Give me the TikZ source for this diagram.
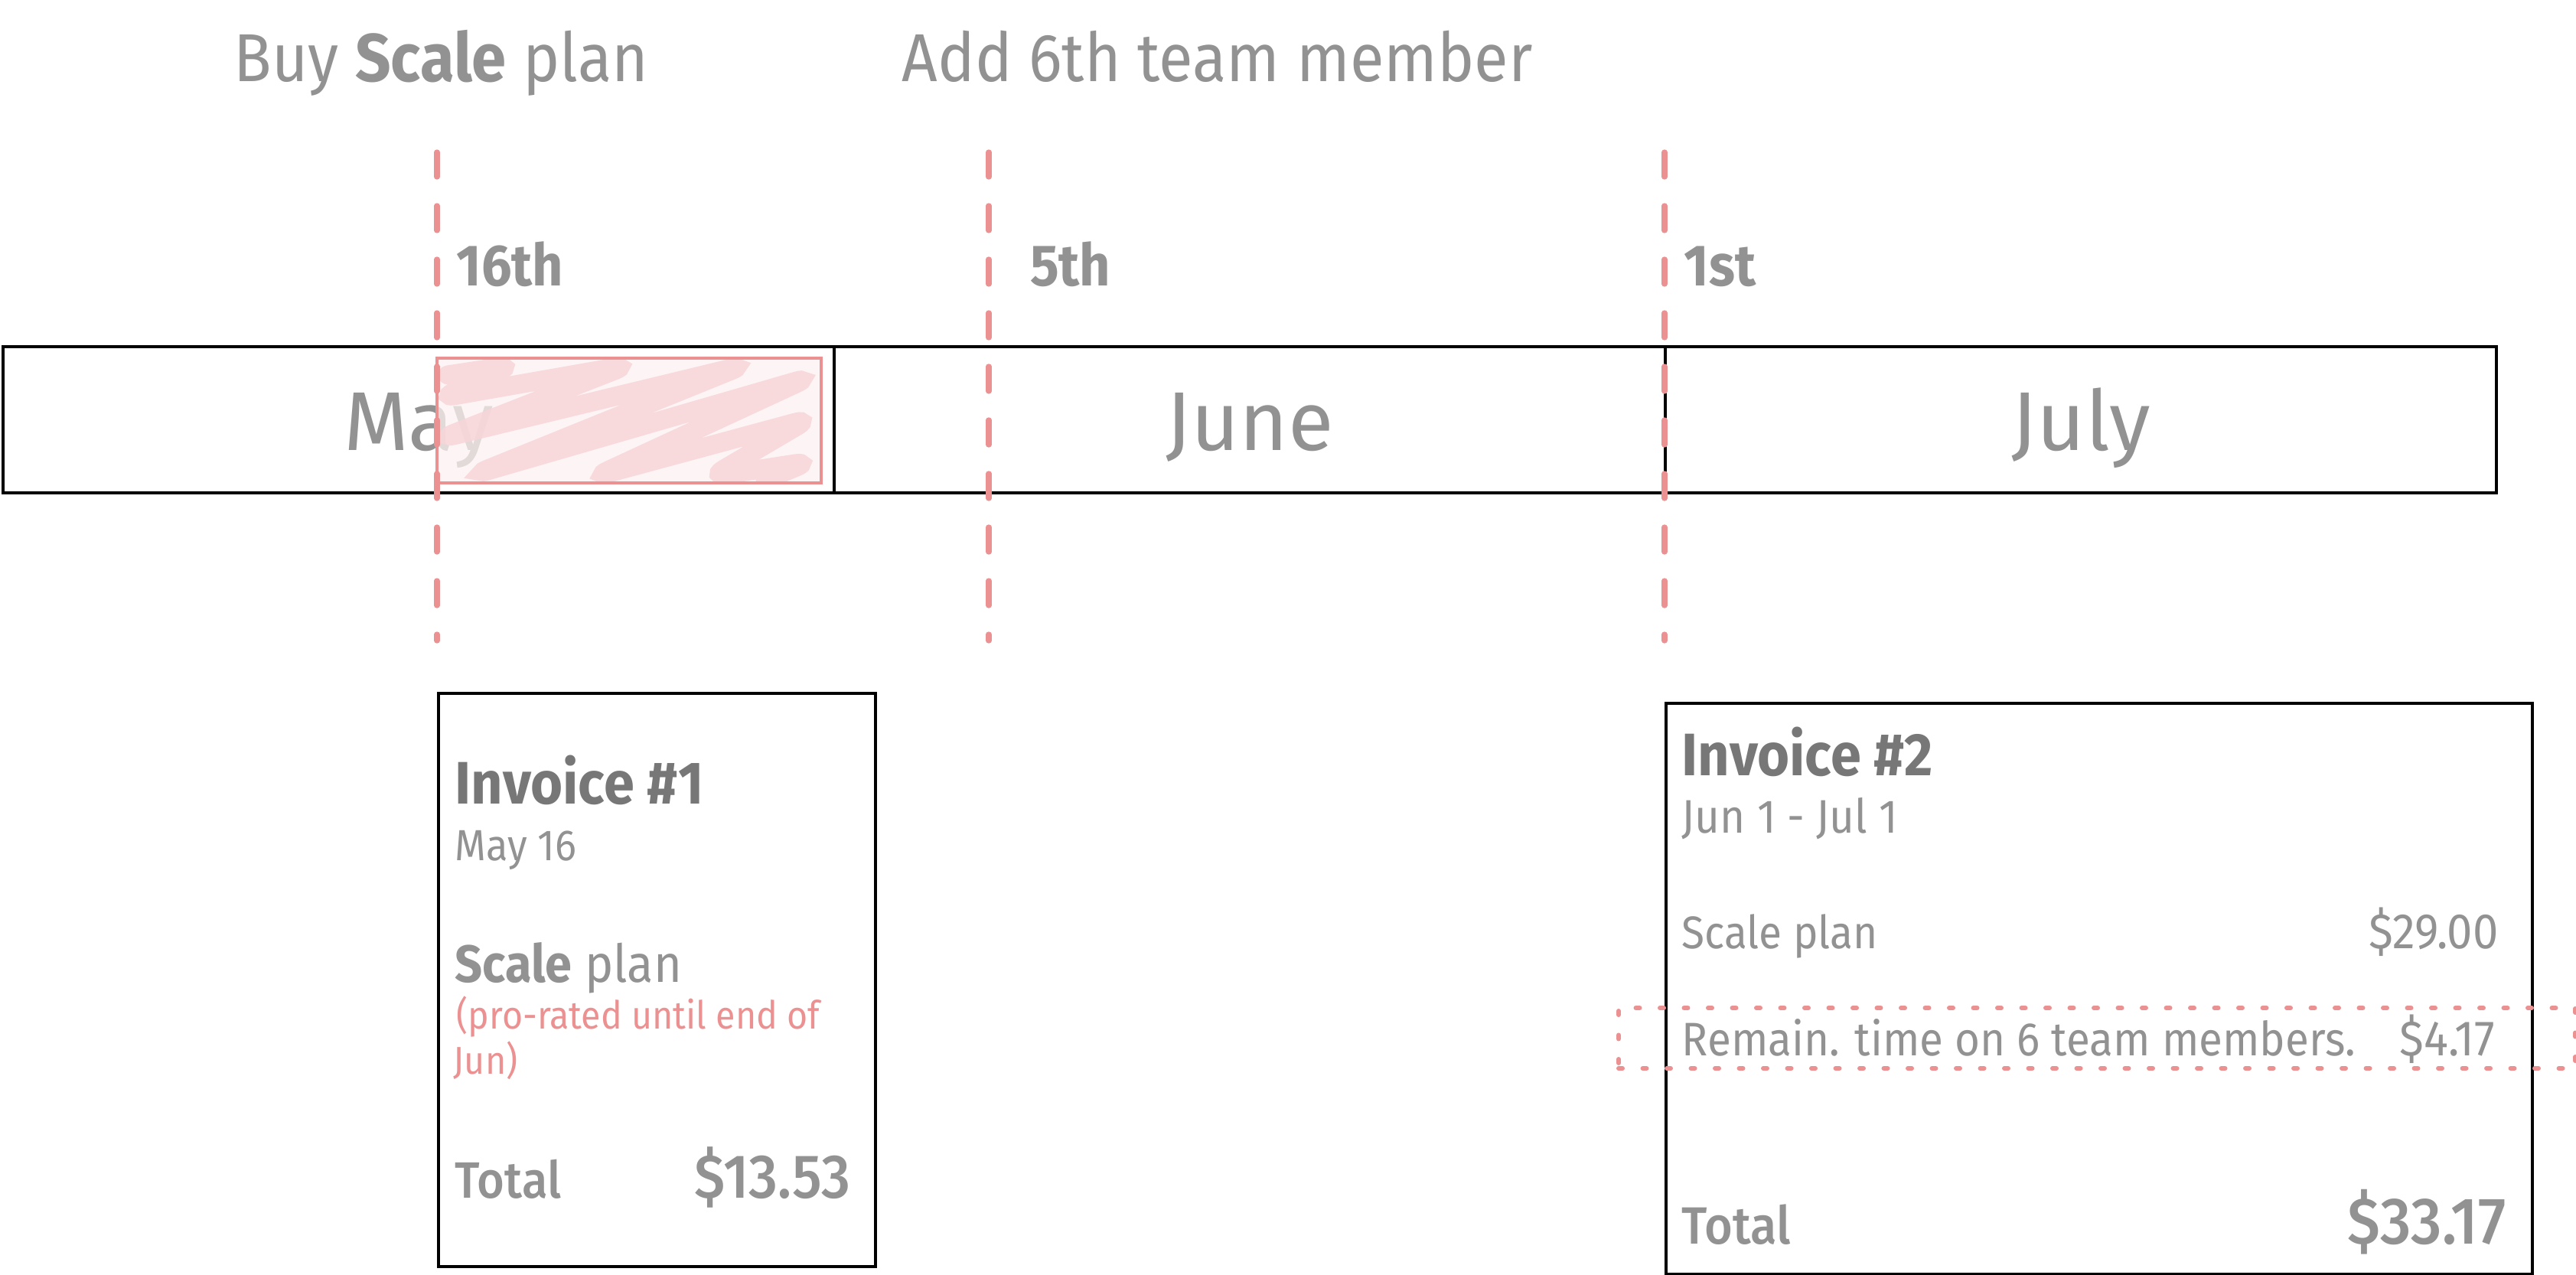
\documentclass[tikz,border=0pt]{standalone}
\usepackage{fontspec}
\setmainfont{Fira Sans}[FakeStretch=0.92]
\newfontfamily\monthfont{Fira Sans}
\newfontfamily\medfont{Fira Sans Medium}[FakeStretch=0.92]
\usetikzlibrary{positioning}

\definecolor{txtgray}{HTML}{929292}
\definecolor{titlegray}{HTML}{777777}
\definecolor{pinkline}{HTML}{EC9191}
\definecolor{hatchfill}{HTML}{FDF1F1}
\definecolor{scribble}{HTML}{F8D6DA}

\begin{document}
\begin{tikzpicture}[
    txt/.style={
        text=txtgray,
        inner sep=0pt,
        anchor=base west
    },
    txtr/.style={
        txt,
        anchor=base east
    },
    month/.style={
        draw,
        line width=1.1pt,
        minimum width=10.86cm,
        minimum height=1.91cm,
        outer sep=0pt,
        text=txtgray,
        font=\monthfont\fontsize{31}{32}\selectfont,
        text height=0.8cm,
        text depth=0cm
    },
    invoice/.style={
        draw,
        line width=1.1pt,
        anchor=north west
    },
    marker/.style={
        draw=pinkline,
        line width=2.1pt,
        line cap=round,
        dash pattern=on 0.32cm off 0.38cm
    },
    remainbox/.style={
        draw=pinkline,
        line width=1.7pt,
        line cap=round,
        dash pattern=on 0.05cm off 0.265cm
    }
]
\useasboundingbox (0,0) rectangle (33.66,-16.66);

% Events
\node[txt, font=\fontsize{25.2}{30}\selectfont] (buy) at (3.05,-1.07) {Buy \textbf{Scale} plan};
\node[txt, font=\fontsize{25.2}{30}\selectfont] (add) at (11.78,-1.07) {Add 6th team member};

% Days
\node[txt, font=\bfseries\fontsize{21.7}{26}\selectfont] (d16) at (5.96,-3.74) {16th};
\node[txt, font=\bfseries\fontsize{21.7}{26}\selectfont] (d5) at (13.46,-3.74) {5th};
\node[txt, font=\bfseries\fontsize{21.7}{26}\selectfont] (d1) at (22.00,-3.74) {1st};

% Months
\node[month, anchor=north west] (may) at (0.04,-4.53) {May};
\node[month, right=0pt of may] (june) {June};
\node[month, right=0pt of june] (july) {July};

% Pro-rated part of May
\begin{scope}
\clip (5.71,-4.68) rectangle (10.73,-6.31);
\fill[hatchfill, opacity=0.75] (5.71,-4.68) rectangle (10.73,-6.31);
\draw[scribble, opacity=0.85, line width=0.25cm, rounded corners=0.2cm, line cap=round]
    (5.85,-4.90) -- (6.70,-4.77) -- (5.76,-5.20) -- (8.21,-4.77) -- (5.76,-5.73)
    -- (9.73,-4.77) -- (6.20,-6.20) -- (10.58,-4.93) -- (7.77,-6.23)
    -- (10.58,-5.47) -- (9.29,-6.23) -- (10.58,-6.03) -- (10.00,-6.27);
\end{scope}
\draw[pinkline, line width=1.1pt] (5.71,-4.68) rectangle (10.73,-6.31);

% Markers
\coordinate (buytop) at (5.71,-1.99);
\coordinate (buybot) at (5.71,-8.37);
\coordinate (addtop) at (12.92,-1.99);
\coordinate (addbot) at (12.92,-8.37);
\coordinate (newtop) at (21.75,-1.99);
\coordinate (newbot) at (21.75,-8.37);
\draw[marker] (buytop) -- (buybot);
\draw[marker] (addtop) -- (addbot);
\draw[marker] (newtop) -- (newbot);

% Invoice 1
\node[invoice, minimum width=5.71cm, minimum height=7.49cm] (inv1) at (5.71,-9.04) {};
\node[txt, text=titlegray, font=\bfseries\fontsize{22.3}{26}\selectfont] (inv1title) at (5.94,-10.50) {Invoice \#1};
\node[txt, font=\fontsize{16.2}{20}\selectfont] (inv1date) at (5.94,-11.24) {May 16};
\node[txt, font=\fontsize{19.5}{23}\selectfont] (inv1plan) at (5.94,-12.83) {\textbf{Scale} plan};
\node[txt, text=pinkline, font=\fontsize{14.4}{17}\selectfont] (inv1note) at (5.96,-13.44) {(pro-rated until end of};
\node[txt, text=pinkline, font=\fontsize{14.4}{17}\selectfont] (inv1note2) at (5.92,-14.03) {Jun)};
\node[txt, font=\medfont\fontsize{19}{23}\selectfont] (inv1total) at (5.94,-15.65) {Total};
\node[txtr, font=\medfont\fontsize{23}{27}\selectfont] (inv1sum) at (11.12,-15.65) {\$13.53};

% Invoice 2
\node[invoice, minimum width=11.32cm, minimum height=7.46cm] (inv2) at (21.75,-9.17) {};
\node[remainbox, minimum width=12.50cm, minimum height=0.79cm, anchor=north west] (remain) at (21.12,-13.14) {};
\node[txt, text=titlegray, font=\bfseries\fontsize{22.3}{26}\selectfont] (inv2title) at (21.97,-10.13) {Invoice \#2};
\node[txt, font=\fontsize{17.5}{20}\selectfont] (inv2date) at (21.97,-10.88) {Jun 1 - Jul 1};
\node[txt, font=\fontsize{17}{20}\selectfont] (inv2plan) at (21.97,-12.39) {Scale plan};
\node[txtr, font=\fontsize{18.5}{21}\selectfont] (inv2plansum) at (32.65,-12.39) {\$29.00};
\node[txt, font=\fontsize{17.5}{20}\selectfont] (inv2seats) at (21.97,-13.79) {Remain. time on 6 team members.};
\node[txtr, font=\fontsize{18.5}{21}\selectfont] (inv2seatsum) at (32.61,-13.79) {\$4.17};
\node[txt, font=\medfont\fontsize{19.5}{23}\selectfont] (inv2total) at (21.97,-16.25) {Total};
\node[txtr, font=\medfont\fontsize{24.5}{28}\selectfont] (inv2sum) at (32.75,-16.25) {\$33.17};

\end{tikzpicture}
\end{document}
